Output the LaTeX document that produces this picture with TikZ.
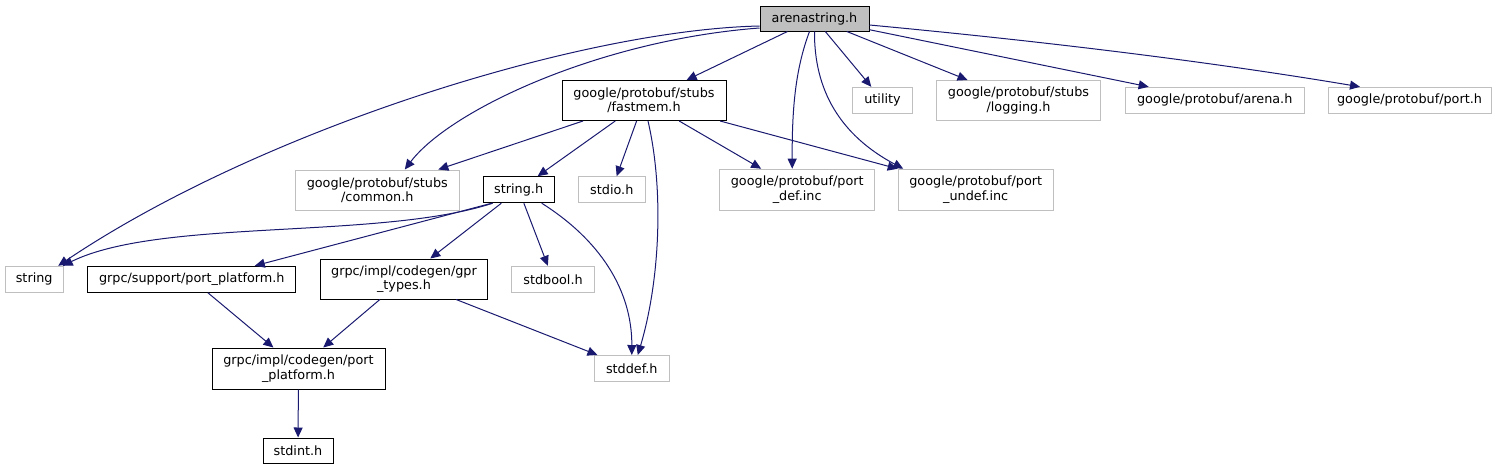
\documentclass[tikz,border=0pt]{standalone}
\usepackage{fontspec}
\setmainfont{DejaVu Sans}
\usepackage{xcolor}
\usepackage{tikz}
\usetikzlibrary{positioning,calc,arrows.meta}
\definecolor{edgeblue}{HTML}{191970}
\definecolor{boxgray}{HTML}{BFBFBF}
\begin{document}
\begin{tikzpicture}[x=1pt,y=-1pt,
		every node/.style={inner sep=0pt,align=center,font=\fontsize{12.8}{14.3}\selectfont},
		incbox/.style={draw=black,line width=1pt,fill=white},
		extbox/.style={draw=boxgray,line width=1pt,fill=white},
		rootbox/.style={draw=black,line width=1pt,fill=boxgray},
		dep/.style={draw=edgeblue,line width=1pt,-{Triangle[length=10pt,width=9pt]}}]
		\useasboundingbox (0,0) rectangle (1501,469);
		\node[rootbox,minimum width=109pt,minimum height=25pt] (root) at (814.5,18.5) {arenastring.h};
		\node[incbox,minimum width=164pt,minimum height=40pt] (fm) at (644,100.5) {google/protobuf/stubs\\/fastmem.h};
		\node[extbox,minimum width=60pt,minimum height=26pt] (util) at (882.5,100.3) {utility};
		\node[extbox,minimum width=164pt,minimum height=40pt] (log) at (1018.5,100.5) {google/protobuf/stubs\\/logging.h};
		\node[extbox,minimum width=179pt,minimum height=26pt] (arn) at (1214.7,100.3) {google/protobuf/arena.h};
		\node[extbox,minimum width=163pt,minimum height=26pt] (prt) at (1409.5,100.3) {google/protobuf/port.h};
		\node[extbox,minimum width=164pt,minimum height=40pt] (cmn) at (377.3,190) {google/protobuf/stubs\\/common.h};
		\node[incbox,minimum width=71pt,minimum height=26pt] (str) at (518.7,189.7) {string.h};
		\node[extbox,minimum width=67pt,minimum height=26pt] (sio) at (611.8,189.7) {stdio.h};
		\node[extbox,minimum width=155pt,minimum height=41pt] (pdef) at (797.2,189.7) {google/protobuf/port\\\_def.inc};
		\node[extbox,minimum width=155pt,minimum height=41pt] (pudef) at (975.7,189.7) {google/protobuf/port\\\_undef.inc};
		\node[extbox,minimum width=58pt,minimum height=26pt] (stds) at (34.2,279.3) {string};
		\node[incbox,minimum width=208pt,minimum height=26pt] (spp) at (191.8,279.3) {grpc/support/port\_platform.h};
		\node[incbox,minimum width=167pt,minimum height=40pt] (gpr) at (404,279) {grpc/impl/codegen/gpr\\\_types.h};
		\node[extbox,minimum width=83pt,minimum height=26pt] (sbool) at (553,279.3) {stdbool.h};
		\node[incbox,minimum width=173pt,minimum height=41pt] (ipp) at (298.5,368.5) {grpc/impl/codegen/port\\\_platform.h};
		\node[extbox,minimum width=75pt,minimum height=26pt] (sdef) at (631.8,368.5) {stddef.h};
		\node[incbox,minimum width=70pt,minimum height=25pt] (sint) at (298,450.5) {stdint.h};
		\draw[dep] ([yshift=-7.5pt]root.west) .. controls (580,30) and (260,130) .. ([xshift=24pt]stds.north);
		\draw[dep] ([yshift=-9.5pt]root.west) .. controls (600,40) and (450,110) .. ([xshift=27.5pt]cmn.north);
		\draw[dep] (root) -- (fm);
		\draw[dep] ([xshift=-5pt]root.south) .. controls (795,70) and (792,110) .. ([xshift=-5pt]pdef.north);
		\draw[dep] (root.south) .. controls (814,90) and (840,135) .. ([xshift=-72.5pt]pudef.north);
		\draw[dep] (root) -- (util);
		\draw[dep] (root) -- (log);
		\draw[dep] (root) -- (arn);
		\draw[dep] ([yshift=-6.5pt]root.east) .. controls (1030,40) and (1200,60) .. ([xshift=-49.5pt]prt.north);
		\draw[dep] (fm) -- (cmn);
		\draw[dep] (fm) -- (str);
		\draw[dep] (fm) -- (sio);
		\draw[dep] ([xshift=4pt]fm.south) .. controls (664,190) and (660,280) .. ([xshift=6pt]sdef.north);
		\draw[dep] (fm) -- (pdef);
		\draw[dep] (fm) -- (pudef);
		\draw[dep] ([xshift=10pt]str.south west) .. controls (380,240) and (160,218) .. ([xshift=-1pt]stds.north east);
		\draw[dep] ([xshift=9pt]str.south west) -- ([xshift=63pt]spp.north);
		\draw[dep] (str) -- (gpr);
		\draw[dep] (str) -- (sbool);
		\draw[dep] ([xshift=23pt]str.south) .. controls (600,240) and (632,290) .. (sdef.north);
		\draw[dep] (spp) -- (ipp);
		\draw[dep] (gpr) -- (ipp);
		\draw[dep] (gpr) -- (sdef);
		\draw[dep] (ipp) -- (sint);
	\end{tikzpicture}
\end{document}
